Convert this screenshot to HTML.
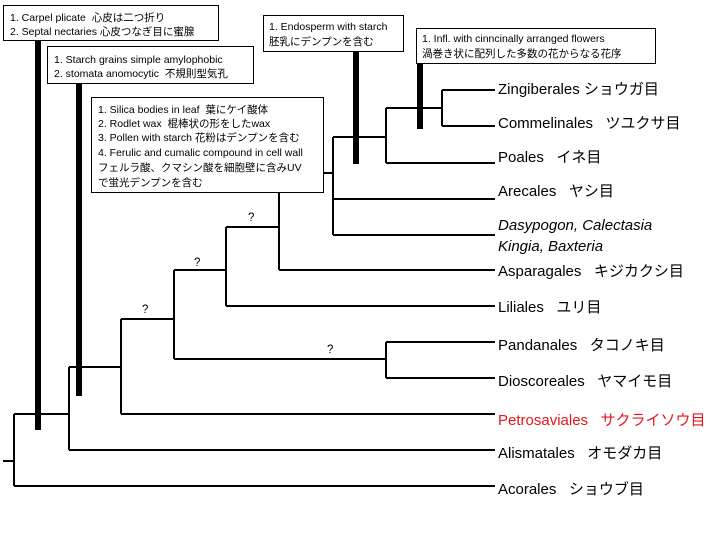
<!DOCTYPE html>
<html><head><meta charset="utf-8"><style>
body{margin:0;background:#fff}
svg{display:block}
text{font-family:"Liberation Sans","Noto Sans CJK JP",sans-serif;fill:#000;white-space:pre}
.l{font-size:15px}
.s{font-size:10.5px}
.m{font-size:11.5px}
</style></head><body>
<svg width="720" height="540" viewBox="0 0 720 540" xmlns="http://www.w3.org/2000/svg" xml:space="preserve">
<g stroke="#000" stroke-width="2" fill="none">
<line x1="3" y1="461" x2="14" y2="461"/>
<line x1="14" y1="414" x2="14" y2="486"/>
<line x1="14" y1="486" x2="495" y2="486"/>
<line x1="14" y1="414" x2="69" y2="414"/>
<line x1="69" y1="367" x2="69" y2="450"/>
<line x1="69" y1="450" x2="495" y2="450"/>
<line x1="69" y1="367" x2="121" y2="367"/>
<line x1="121" y1="319" x2="121" y2="414"/>
<line x1="121" y1="414" x2="495" y2="414"/>
<line x1="121" y1="319" x2="174" y2="319"/>
<line x1="174" y1="270" x2="174" y2="359"/>
<line x1="174" y1="359" x2="386" y2="359"/>
<line x1="386" y1="342" x2="386" y2="378"/>
<line x1="386" y1="342" x2="495" y2="342"/>
<line x1="386" y1="378" x2="495" y2="378"/>
<line x1="174" y1="270" x2="226" y2="270"/>
<line x1="226" y1="227" x2="226" y2="306"/>
<line x1="226" y1="306" x2="495" y2="306"/>
<line x1="226" y1="227" x2="279" y2="227"/>
<line x1="279" y1="192" x2="279" y2="270"/>
<line x1="279" y1="270" x2="495" y2="270"/>
<line x1="323" y1="173" x2="333" y2="173"/>
<line x1="333" y1="137" x2="333" y2="235"/>
<line x1="333" y1="235" x2="495" y2="235"/>
<line x1="333" y1="199" x2="495" y2="199"/>
<line x1="333" y1="137" x2="386" y2="137"/>
<line x1="386" y1="108" x2="386" y2="163"/>
<line x1="386" y1="163" x2="495" y2="163"/>
<line x1="386" y1="108" x2="442" y2="108"/>
<line x1="442" y1="90" x2="442" y2="126"/>
<line x1="442" y1="90" x2="495" y2="90"/>
<line x1="442" y1="126" x2="495" y2="126"/>
</g>
<g fill="#000">
<rect x="35" y="40" width="6" height="390"/>
<rect x="76" y="83" width="6" height="313"/>
<rect x="353" y="51" width="6" height="113"/>
<rect x="417" y="63" width="6" height="66"/>
</g>
<g fill="#fff" stroke="#000" stroke-width="1">
<rect x="3.5" y="5.5" width="215" height="35"/>
<rect x="47.5" y="46.5" width="206" height="37"/>
<rect x="91.5" y="97.5" width="232" height="95"/>
<rect x="263.5" y="15.5" width="140" height="36"/>
<rect x="416.5" y="28.5" width="239" height="35"/>
</g>
<text class="s" x="10" y="21">1. Carpel plicate  心皮は二つ折り</text>
<text class="s" x="10" y="35">2. Septal nectaries 心皮つなぎ目に蜜腺</text>
<text class="s" x="54" y="63">1. Starch grains simple amylophobic</text>
<text class="s" x="54" y="77">2. stomata anomocytic  不規則型気孔</text>
<text class="s" x="98" y="113">1. Silica bodies in leaf  葉にケイ酸体</text>
<text class="s" x="98" y="127">2. Rodlet wax  棍棒状の形をしたwax</text>
<text class="s" x="98" y="141">3. Pollen with starch 花粉はデンプンを含む</text>
<text class="s" x="98" y="156">4. Ferulic and cumalic compound in cell wall</text>
<text class="s" x="98" y="171">フェルラ酸、クマシン酸を細胞壁に含みUV</text>
<text class="s" x="98" y="186">で蛍光デンプンを含む</text>
<text class="s" x="269" y="30">1. Endosperm with starch</text>
<text class="s" x="269" y="45">胚乳にデンプンを含む</text>
<text class="s" x="422" y="42">1. Infl. with cinncinally arranged flowers</text>
<text class="s" x="422" y="57">渦巻き状に配列した多数の花からなる花序</text>
<g class="m">
<text x="248" y="221">?</text>
<text x="194" y="266">?</text>
<text x="142" y="313">?</text>
<text x="327" y="353">?</text>
</g>
<g class="l">
<text x="498" y="94">Zingiberales ショウガ目</text>
<text x="498" y="128">Commelinales   ツユクサ目</text>
<text x="498" y="162">Poales   イネ目</text>
<text x="498" y="196">Arecales   ヤシ目</text>
<text x="498" y="230" font-style="italic">Dasypogon, Calectasia</text>
<text x="498" y="251" font-style="italic">Kingia, Baxteria</text>
<text x="498" y="276">Asparagales   キジカクシ目</text>
<text x="498" y="312">Liliales   ユリ目</text>
<text x="498" y="350">Pandanales   タコノキ目</text>
<text x="498" y="386">Dioscoreales   ヤマイモ目</text>
<text x="498" y="425" style="fill:#e8141b">Petrosaviales   サクライソウ目</text>
<text x="498" y="458">Alismatales   オモダカ目</text>
<text x="498" y="494">Acorales   ショウブ目</text>
</g>
</svg>
</body></html>
